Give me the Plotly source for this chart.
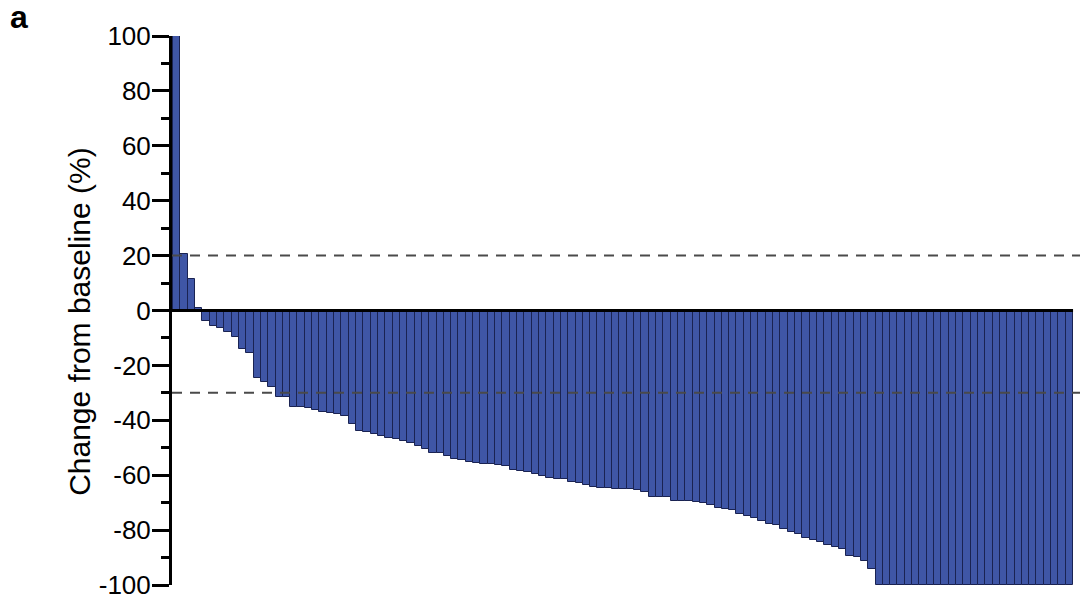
import plotly.graph_objects as go

# Best percentage change from baseline per patient, sorted (waterfall)
change_pct = [
    100, 20.5, 11.5, 1, -4, -5.5, -6.5, -8, -9.5, -14, -15.5, -24.5, -26, -28,
    -31.5, -31.5, -35, -35.3, -35.6, -36.2, -36.8, -37.5, -37.8, -38.6, -41.5,
    -43.9, -44.2, -45.1, -45.7, -46.3, -46.9, -47.5, -48.4, -49.3, -50.3, -52,
    -52, -53, -54, -54.5, -55.2, -55.6, -56, -56, -56.3, -56.6, -58, -58.3, -59,
    -59.6, -60.2, -61, -61.3, -61.5, -62.4, -62.9, -63.6, -64.2, -64.8, -64.8,
    -65.1, -65.1, -65.1, -65.5, -66, -67.8, -67.8, -67.8, -69.3, -69.3, -69.3,
    -69.6, -70.2, -70.9, -71.8, -72.4, -72.6, -74.2, -74.8, -75.7, -76.6, -77.8,
    -78.2, -79.6, -80.8, -81.5, -82.7, -83.5, -84.5, -85.5, -86.3, -86.9, -89.3,
    -89.9, -91.1, -94.2,
] + [-100] * 27
patients = list(range(len(change_pct)))

# Reference thresholds (progression +20 %, response -30 %)
thresholds = [20, -30]
y_ticks = [100, 80, 60, 40, 20, 0, -20, -40, -60, -80, -100]

n = len(patients)
x_lo, x_hi = -0.65, n - 0.5 + 0.95
FONT = "Liberation Sans, Arial, sans-serif"

fig = go.Figure()
fig.add_trace(go.Bar(
    x=patients, y=change_pct, width=1.0,
    marker=dict(color="#3F56A6", line=dict(color="#1A2352", width=1)),
    hoverinfo="y",
))

# zero baseline
fig.add_shape(type="line", xref="x", yref="y", x0=x_lo, x1=n - 0.5, y0=0, y1=0,
              line=dict(color="black", width=3), layer="above")
# dashed thresholds
for t in thresholds:
    fig.add_shape(type="line", xref="paper", yref="y", x0=0, x1=1, y0=t, y1=t,
                  line=dict(color="#4a4a4a", width=2, dash="10px,8px"), layer="above")

# panel letter
fig.add_annotation(text="<b>a</b>", xref="paper", yref="paper",
                   x=-0.168, y=1.035, xanchor="center", yanchor="middle",
                   showarrow=False, font=dict(size=32, color="black", family=FONT))

# y-axis title
fig.add_annotation(text="Change from baseline (%)", xref="paper", yref="paper",
                   x=-0.102, y=0.48, xanchor="center", yanchor="middle",
                   textangle=-90, showarrow=False,
                   font=dict(size=30, color="black", family=FONT))

fig.update_layout(
    width=1082, height=599,
    margin=dict(l=172, r=2, t=36, b=14, autoexpand=False),
    paper_bgcolor="white", plot_bgcolor="white",
    bargap=0, showlegend=False,
    font=dict(family=FONT, color="black"),
    xaxis=dict(range=[x_lo, x_hi], visible=False, showgrid=False, zeroline=False,
               automargin=False),
    yaxis=dict(
        range=[-100, 100], tickmode="array", tickvals=y_ticks,
        ticktext=[str(v) for v in y_ticks],
        showgrid=False, zeroline=False, automargin=False,
        showline=True, linecolor="black", linewidth=3,
        ticks="outside", ticklen=17, tickwidth=2.5, tickcolor="black",
        tickfont=dict(size=26, color="black"),
        ticklabelstandoff=-4, ticklabeloverflow="allow",
        minor=dict(dtick=10, tick0=0, ticks="outside", ticklen=8, tickwidth=2.5,
                   tickcolor="black", showgrid=False),
    ),
)

fig.write_html("out.html")
